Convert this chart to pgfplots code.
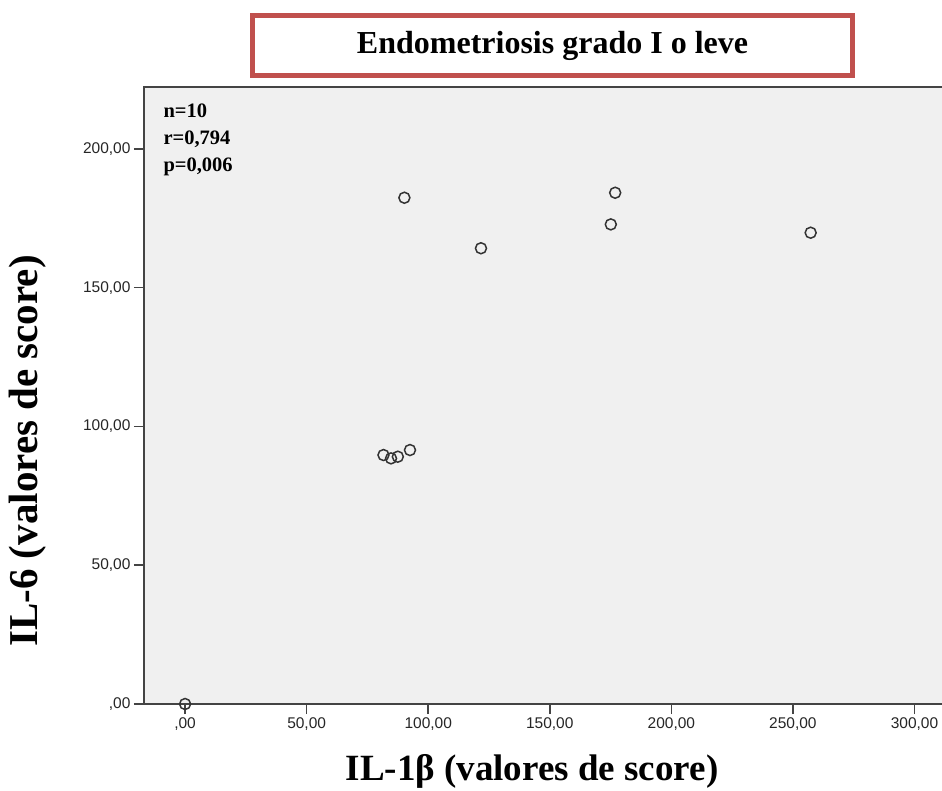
\documentclass[border=0pt]{standalone}
\usepackage{fontspec}
\setmainfont{Liberation Serif}
\newfontfamily\arial{Liberation Sans}
\usepackage{pgfplots}
\pgfplotsset{compat=1.18}

\definecolor{boxred}{HTML}{C0504D}
\definecolor{plotbg}{HTML}{F0F0F0}
\definecolor{axisgray}{HTML}{444444}

\begin{document}
\begin{tikzpicture}
  % page = picture size of the reference (in pt, 1pt = 1px)
  \useasboundingbox (-144pt,-86pt) rectangle (798pt,704pt);
  \begin{axis}[
      scale only axis,
      width=805pt, height=617pt,
      xmin=-16.9, xmax=314.2,
      ymin=0, ymax=222.3,
      clip=false,
      axis background/.style={fill=plotbg},
      axis line style={axisgray, line width=1.4pt},
      major tick style={draw=axisgray, line width=1.6pt},
      tick align=outside,
      xtick pos=bottom, ytick pos=left,
      major tick length=10pt,
      xtick={0,50,100,150,200,250,300},
      xticklabels={{,00},{50,00},{100,00},{150,00},{200,00},{250,00},{300,00}},
      ytick={0,50,100,150,200},
      yticklabels={{,00},{50,00},{100,00},{150,00},{200,00}},
      tick label style={font=\arial\fontsize{15.5}{18}\selectfont, text=black!85},
      xlabel={IL-1β (valores de score)},
      ylabel={IL-6 (valores de score)},
      every axis x label/.style={at={(rel axis cs:0.482,0)}, yshift=-67pt, anchor=center,
        font=\bfseries\fontsize{37}{41}\selectfont},
      every axis y label/.style={at={(rel axis cs:0,0.41)}, xshift=-116pt, anchor=center,
        rotate=90, font=\bfseries\fontsize{41}{45}\selectfont},
    ]
    \addplot[only marks, mark=o, mark size=5.5pt,
      mark options={draw=black!80, line width=1.5pt}]
      coordinates {
        (0,0)
        (90.2,182.4)
        (121.7,164.2)
        (176.9,184.2)
        (175.1,172.8)
        (257.3,169.8)
        (81.6,89.7)
        (84.7,88.5)
        (87.5,89.1)
        (92.5,91.5)
      };
    \node[anchor=north west, align=left, font=\bfseries\fontsize{20.5}{27}\selectfont]
      at ([xshift=16pt,yshift=-13pt]rel axis cs:0,1)
      {n=10\\r=0,794\\p=0,006};
    \node[draw=boxred, line width=5pt, fill=white, minimum width=600pt,
      minimum height=60pt, font=\bfseries\fontsize{32}{35}\selectfont]
      at ([yshift=41pt]rel axis cs:0.5075,1) {Endometriosis grado I o leve};
  \end{axis}
\end{tikzpicture}
\end{document}
